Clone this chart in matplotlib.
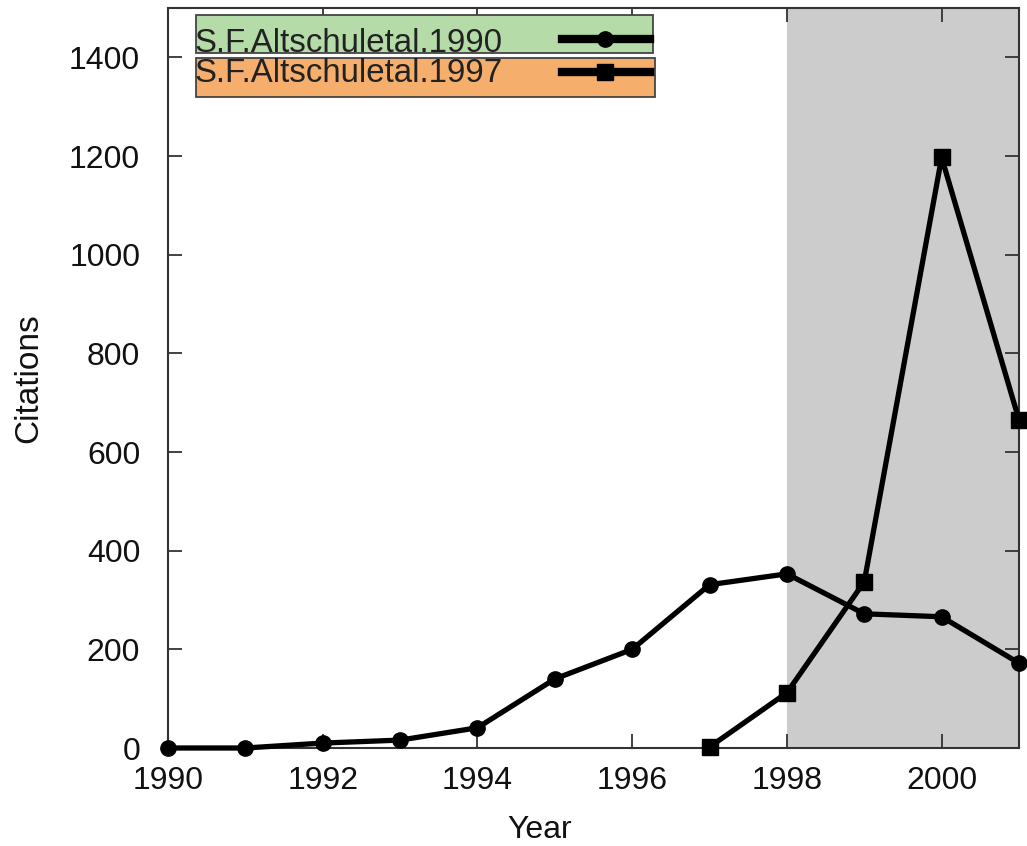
import matplotlib
matplotlib.use("Agg")
import matplotlib.pyplot as plt

plt.rcParams['font.family'] = ['Liberation Sans', 'DejaVu Sans']

# citations per year for the two papers
anos_1990 = [1990, 1991, 1992, 1993, 1994, 1995, 1996, 1997, 1998, 1999, 2000, 2001]
cit_1990 = [0, 0, 10, 16, 41, 140, 200, 331, 353, 272, 266, 172]

anos_1997 = [1997, 1998, 1999, 2000, 2001]
cit_1997 = [2, 112, 337, 1197, 665]

rotulos = ['S.F.Altschuletal.1990', 'S.F.Altschuletal.1997']
cores_caixa = ['#b5dba9', '#f5ae6b']

fig = plt.figure(figsize=(10.27, 8.46), dpi=100)
ax = fig.add_axes([168 / 1027, 1 - 748 / 846, 851 / 1027, 740 / 846])

# shaded period
ax.axvspan(1998, 2001, color='#cccccc', zorder=0, lw=0)

ax.plot(anos_1990, cit_1990, color='black', lw=3.8, marker='o', ms=11, zorder=3, clip_on=False)
ax.plot(anos_1997, cit_1997, color='black', lw=3.8, marker='s', ms=12, zorder=3, clip_on=False)

ax.set_xlim(1990, 2001)
ax.set_ylim(0, 1500)
ax.set_xticks(range(1990, 2001, 2))
ax.set_yticks(range(0, 1401, 200))

ax.tick_params(direction='in', length=10, width=1.3, colors='#333333', labelcolor='#111111',
               labelsize=23, top=True, right=True)
ax.tick_params(axis='y', pad=20)
ax.tick_params(axis='x', pad=13)
for s in ax.spines.values():
    s.set_linewidth(1.5)
    s.set_color('#333333')

fig.text(540 / 1027, 1 - 830 / 846, 'Year', fontsize=23, ha='center', va='center', color='#111111')
fig.text(29 / 1027, 1 - 378 / 846, 'Citations', fontsize=24, ha='center', va='center',
         rotation=90, color='#111111')

# legend boxes drawn by hand
caixas = [(0.9392, 0.9905 - 0.9392), (0.8797, 0.9324 - 0.8797)]
larguras = [0.570 - 0.0329, 0.5723 - 0.0329]
linhas_y = [0.958, 0.913]
textos_y = [0.9405, 0.900]
marcadores = ['o', 's']
for i in range(2):
    ax.add_patch(plt.Rectangle((0.0329, caixas[i][0]), larguras[i], caixas[i][1],
                               transform=ax.transAxes, facecolor=cores_caixa[i],
                               edgecolor='#444444', lw=1.3, zorder=4))
    ax.text(0.031, textos_y[i], rotulos[i], transform=ax.transAxes, fontsize=23.8,
            va='baseline', ha='left', color='#222222', zorder=5)
    ax.plot([0.463, 0.566], [linhas_y[i], linhas_y[i]], transform=ax.transAxes,
            color='black', lw=6, zorder=5)
    ax.plot([0.5135], [linhas_y[i]], transform=ax.transAxes, color='black',
            marker=marcadores[i], ms=11 if i == 0 else 12, zorder=6)

fig.savefig('out.png', dpi=100)
